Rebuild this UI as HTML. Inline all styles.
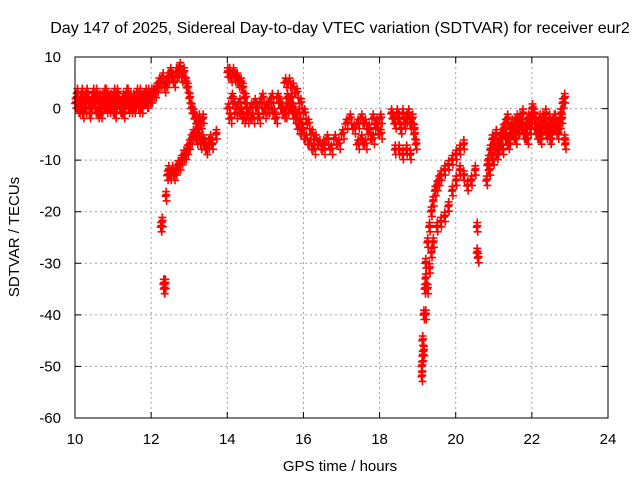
<!DOCTYPE html>
<html><head><meta charset="utf-8"><style>
body{margin:0;background:#fff}
svg{display:block;font-family:"Liberation Sans",sans-serif}
</style></head><body>
<svg id="chart" width="640" height="480">
<rect width="640" height="480" fill="#fff"/>
<text x="340" y="33" text-anchor="middle" font-size="16" fill="#000">Day 147 of 2025, Sidereal Day-to-day VTEC variation (SDTVAR) for receiver eur2</text>
<text x="340" y="471" text-anchor="middle" font-size="15" fill="#000">GPS time / hours</text>
<text transform="translate(19,237) rotate(-90)" text-anchor="middle" font-size="15" fill="#000">SDTVAR / TECUs</text>
<g id="grid"></g>
<g id="ticks"></g>
<g id="marks"></g>
<rect x="75" y="57" width="533" height="361" fill="none" stroke="#000" stroke-width="1"/>
</svg>
<script>
const xTicks=[10,12,14,16,18,20,22,24];
const yTicks=[10,0,-10,-20,-30,-40,-50,-60];
// groups: start time, time step, values
const groupStarts=[10.0,10.025,12.0,14.0,14.05,15.5,15.55,16.5,17.4,18.3,20.8,20.825];
const groupSteps=[0.05,0.05,0.05,0.1,0.1,0.1,0.1,0.1,0.1,0.05,0.05,0.05];
const groupValues=[
[1,3,0,2,-1,2,3,1,0,2,1,3,-1,2,0,1,3,2,0,1,2,-1,3,1,0,2,1,3,0,2,1,0,2,1,3,0,2,3,1,2,3],
[2,0,1,3,1,0,2,-1,1,3,0,2,1,-1,2,3,0,1,2,0,3,1,2,0,1,-1,2,3,1,0,2,1,3,0,1,2,2,1,3,2],
[2,3,3,4,5,5,6,4,5,6,7,6,5,7,7,8,6,7,5,4,2,0,-1,-2,-3,-2,-3,-2],
[0,2,-1,1,-2,-2,0,1,-2,2,0,1,-1,2,0,-1,1,0,-2,-3],
[-2,1,0,-1,2,-1,-2,0,1,-1,0,2,-2,1,-1,0,2,-1,-1,-4],
[5,5,4,3,1,-1,-3,-5,-6,-7,-8],
[2,0,-2,-4,-5,-6,-7,-8],
[-7,-6,-8,-6,-7,-5,-3,-2,-4,-3,-2,-3,-4,-2,-3,-2],
[-7,-6,-7,-5,-6,-4,-5],
[-1,-2,-3,-1,-2,-4,-1,-3,-2,-1,-3,-2,-5],
[-14,-10,-8,-6,-7,-5,-8,-6,-5,-4,-3,-2,-6,-4,-5,-3,-2,-4,-3,-1,-5,-3,-2,-4,0,-1,-3,-5,-2,-4,-3,-1,-4,-2,-5,-3,-2,-4,-3,-1,1],
[-11,-12,-9,-10,-8,-9,-7,-6,-8,-5,-6,-7,-4,-3,-5,-6,-4,-2,-3,-5,-4,-6,-3,-2,-1,-4,-5,-3,-6,-2,-3,-5,-4,-6,-3,-2,-4,-5,-3,-2]
];
// irregular points
const extraTimes=[12.25,12.28,12.32,12.33,12.36,12.38,12.42,12.45,12.5,12.55,12.6,12.65,12.7,12.75,12.8,12.85,12.9,12.95,13.0,13.05,13.1,13.15,13.2,13.25,13.3,13.35,13.4,13.45,13.5,13.55,13.6,13.7,
14.0,14.05,14.1,14.15,14.2,14.25,14.3,14.35,14.4,14.45,14.5,
18.4,18.5,18.6,18.7,18.8,18.9,18.95,
19.1,19.1,19.12,19.15,19.18,19.2,19.25,19.3,19.35,19.4,19.45,19.5,19.55,19.6,19.7,19.8,19.9,20.0,20.1,20.2,
19.2,19.25,19.3,19.35,19.4,19.5,19.6,19.7,19.8,19.9,20.0,20.1,20.2,20.3,20.4,20.5,
19.15,19.12,19.2,20.55,20.55,20.58,22.85,22.85,22.87];
const extraValues=[-23,-22,-34,-35,-34,-17,-13,-12,-13,-12,-13,-12,-11,-11,-10,-9,-9,-8,-7,-6,-5,-5,-6,-5,-7,-6,-7,-8,-7,-6,-7,-5,
7,7,6,7,6,6,5,5,4,2,0,
-8,-8,-9,-8,-9,-4,-7,
-52,-50,-45,-40,-35,-30,-26,-23,-20,-18,-16,-15,-14,-13,-12,-11,-10,-9,-8,-7,
-40,-35,-31,-28,-26,-23,-22,-21,-19,-16,-14,-12,-13,-15,-14,-12,
-47,-48,-33,-23,-28,-29,2,-6,-7];

const L=75,R=608,T=57,B=418;
const xs=t=>L+(t-10)/14*(R-L);
const ys=v=>T+(10-v)/70*(B-T);
const NS='http://www.w3.org/2000/svg';
const grid=document.getElementById('grid'),ticks=document.getElementById('ticks'),marks=document.getElementById('marks');
function mk(tag,attrs,parent){const e=document.createElementNS(NS,tag);for(const k in attrs)e.setAttribute(k,attrs[k]);parent.appendChild(e);return e;}
xTicks.forEach(t=>{
  const x=xs(t);
  if(t>10&&t<24){const g=mk('line',{x1:x,x2:x,y1:T,y2:B,stroke:'#a0a0a0','stroke-dasharray':'2,3'},grid);
  
  }
  const tk=mk('path',{d:`M${x},${B}v-6M${x},${T}v6`,stroke:'#000'},ticks);
  
  
  const lb=mk('text',{x:x,y:B+26,'text-anchor':'middle','font-size':15},ticks);lb.textContent=t;
  
  
});
yTicks.forEach(v=>{
  const y=ys(v);
  if(v<10&&v>-60){const g=mk('line',{x1:L,x2:R,y1:y,y2:y,stroke:'#a0a0a0','stroke-dasharray':'2,3'},grid);
  
  }
  const tk=mk('path',{d:`M${L},${y}h6M${R},${y}h-6`,stroke:'#000'},ticks);
  
  
  const lb=mk('text',{x:L-14,y:y+5,'text-anchor':'end','font-size':15},ticks);lb.textContent=v;
  
  
});
let d='';
function add(t,v){const x=xs(t),y=ys(v);d+=`M${(x-4).toFixed(1)},${y.toFixed(1)}h8M${x.toFixed(1)},${(y-4).toFixed(1)}v8`;}
function cluster(t,v,dt){add(t,v);add(t+dt/3,v+0.9);add(t+dt*2/3,v-0.9);add(t+dt/2,v+0.3);}
groupValues.forEach((vals,g)=>vals.forEach((v,i)=>{const t=groupStarts[g]+i*groupSteps[g];cluster(t,v,groupSteps[g]);}));
extraTimes.forEach((t,i)=>{cluster(t,extraValues[i],0.04);});
const p=mk('path',{d:d,stroke:'#ff0000','stroke-width':1.6,fill:'none'},marks);


</script>
</body></html>
